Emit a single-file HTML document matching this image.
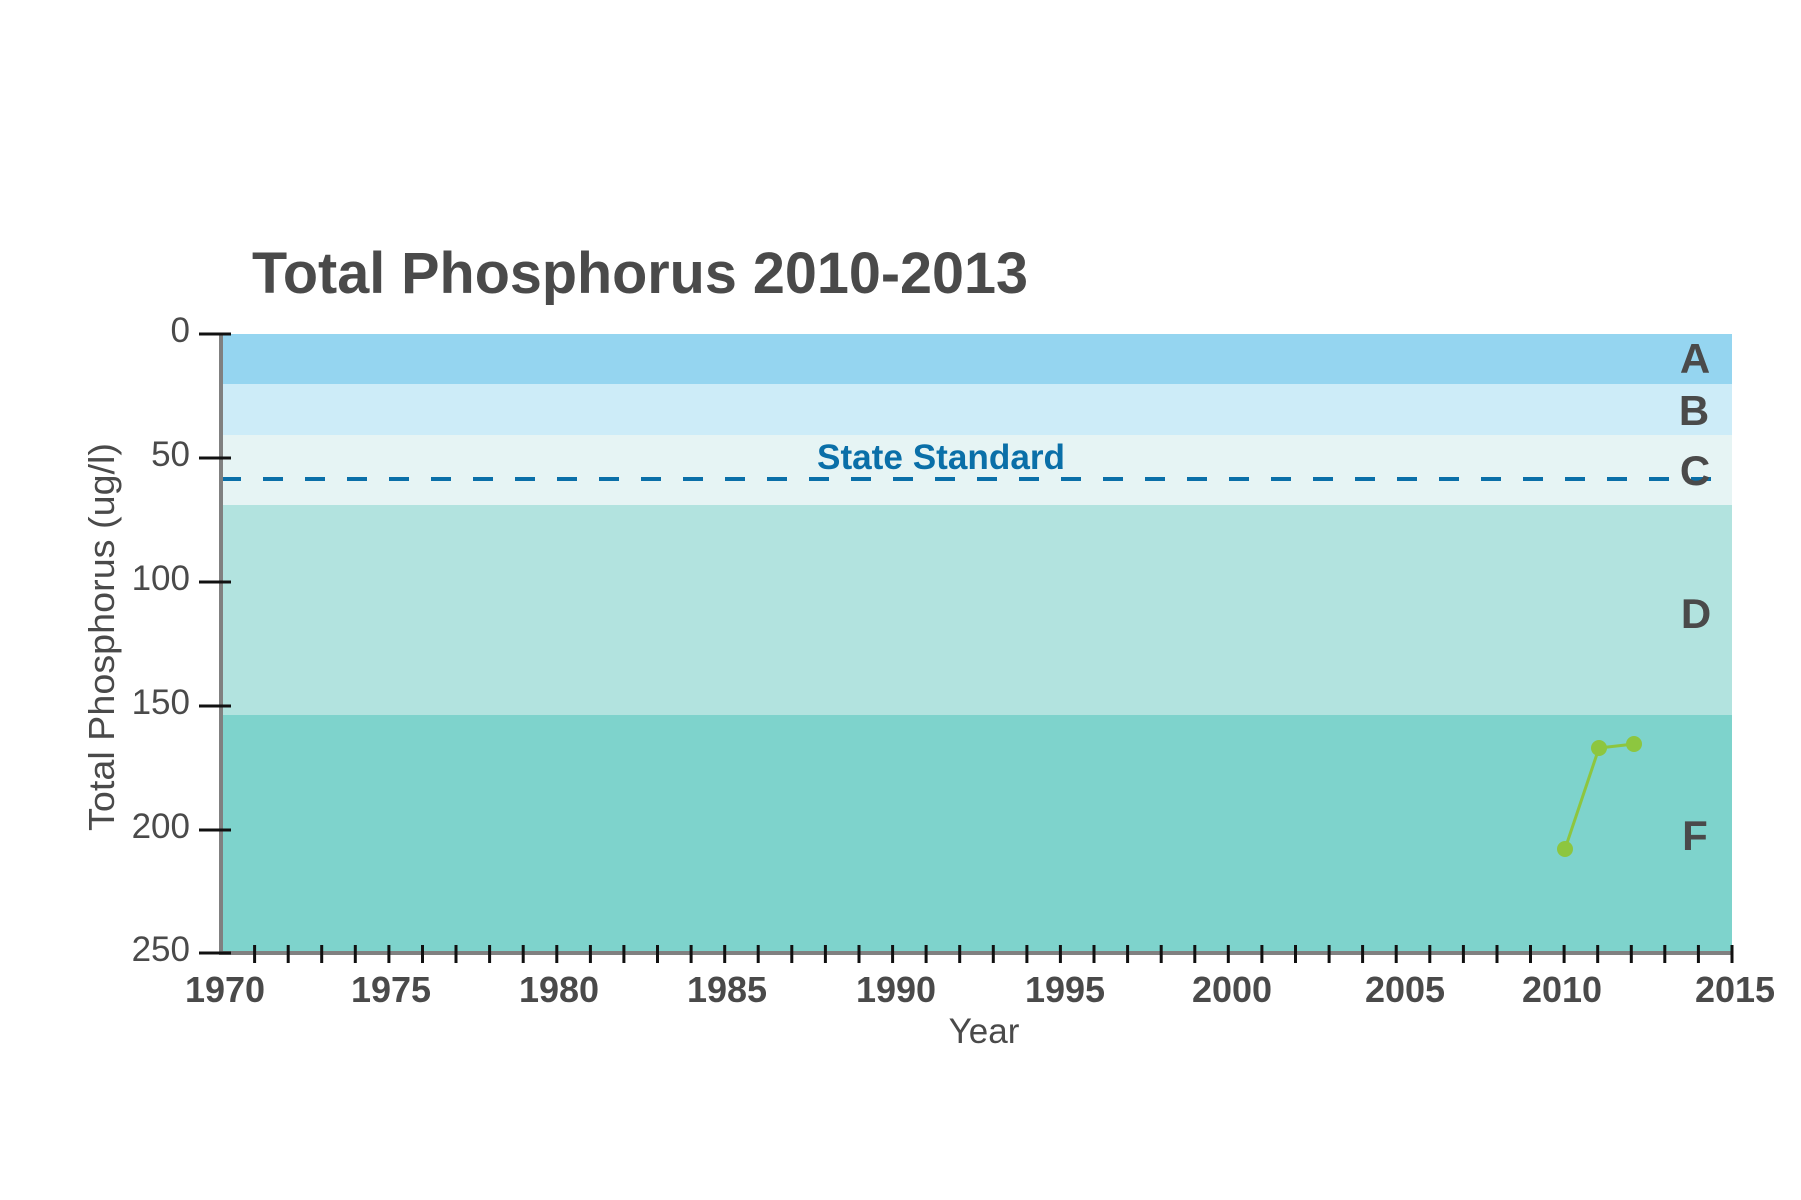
<!DOCTYPE html>
<html><head><meta charset="utf-8"><style>html,body{margin:0;padding:0;background:#fff}svg{display:block}</style></head>
<body>
<svg width="1801" height="1200" xmlns="http://www.w3.org/2000/svg" font-family="Liberation Sans, sans-serif">
<text x="252" y="293" font-size="58" font-weight="bold" fill="#4a4a4a" textLength="776" lengthAdjust="spacingAndGlyphs">Total Phosphorus 2010-2013</text>
<rect x="221" y="334" width="1511" height="50" fill="#95d5f0"/>
<rect x="221" y="384" width="1511" height="51" fill="#cdecf8"/>
<rect x="221" y="435" width="1511" height="70" fill="#e6f4f4"/>
<rect x="221" y="505" width="1511" height="210" fill="#b2e3df"/>
<rect x="221" y="715" width="1511" height="238" fill="#7ed3cc"/>
<line x1="221" y1="479" x2="1732" y2="479" stroke="#0a6fa8" stroke-width="4" stroke-dasharray="20 22"/>
<text x="817" y="469" font-size="35" font-weight="bold" fill="#0a6fa8" textLength="248" lengthAdjust="spacingAndGlyphs">State Standard</text>
<g font-size="42" font-weight="bold" fill="#4a4a4a" text-anchor="middle">
<text x="1695" y="373">A</text><text x="1694" y="425">B</text><text x="1695" y="485">C</text><text x="1696" y="628">D</text><text x="1695" y="850">F</text>
</g>
<polyline points="1565,849 1599,748 1634,744" fill="none" stroke="#8dc63f" stroke-width="3"/>
<g fill="#8dc63f"><circle cx="1565" cy="849" r="8"/><circle cx="1599" cy="748" r="8"/><circle cx="1634" cy="744" r="8"/></g>
<line x1="221" y1="334" x2="221" y2="955" stroke="#808080" stroke-width="4"/>
<line x1="219" y1="953" x2="1732" y2="953" stroke="#808080" stroke-width="4"/>
<g stroke="#111" stroke-width="3">
<line x1="199" y1="334" x2="231" y2="334"/><line x1="199" y1="458" x2="231" y2="458"/><line x1="199" y1="582" x2="231" y2="582"/><line x1="199" y1="706" x2="231" y2="706"/><line x1="199" y1="830" x2="231" y2="830"/><line x1="199" y1="953" x2="231" y2="953"/>
</g>
<g stroke="#111" stroke-width="3">
<line x1="254.6" y1="945" x2="254.6" y2="963"/><line x1="288.2" y1="945" x2="288.2" y2="963"/><line x1="321.7" y1="945" x2="321.7" y2="963"/><line x1="355.3" y1="945" x2="355.3" y2="963"/><line x1="388.9" y1="945" x2="388.9" y2="963"/><line x1="422.5" y1="945" x2="422.5" y2="963"/><line x1="456.0" y1="945" x2="456.0" y2="963"/><line x1="489.6" y1="945" x2="489.6" y2="963"/><line x1="523.2" y1="945" x2="523.2" y2="963"/><line x1="556.8" y1="945" x2="556.8" y2="963"/><line x1="590.4" y1="945" x2="590.4" y2="963"/><line x1="623.9" y1="945" x2="623.9" y2="963"/><line x1="657.5" y1="945" x2="657.5" y2="963"/><line x1="691.1" y1="945" x2="691.1" y2="963"/><line x1="724.7" y1="945" x2="724.7" y2="963"/><line x1="758.2" y1="945" x2="758.2" y2="963"/><line x1="791.8" y1="945" x2="791.8" y2="963"/><line x1="825.4" y1="945" x2="825.4" y2="963"/><line x1="859.0" y1="945" x2="859.0" y2="963"/><line x1="892.6" y1="945" x2="892.6" y2="963"/><line x1="926.1" y1="945" x2="926.1" y2="963"/><line x1="959.7" y1="945" x2="959.7" y2="963"/><line x1="993.3" y1="945" x2="993.3" y2="963"/><line x1="1026.9" y1="945" x2="1026.9" y2="963"/><line x1="1060.4" y1="945" x2="1060.4" y2="963"/><line x1="1094.0" y1="945" x2="1094.0" y2="963"/><line x1="1127.6" y1="945" x2="1127.6" y2="963"/><line x1="1161.2" y1="945" x2="1161.2" y2="963"/><line x1="1194.8" y1="945" x2="1194.8" y2="963"/><line x1="1228.3" y1="945" x2="1228.3" y2="963"/><line x1="1261.9" y1="945" x2="1261.9" y2="963"/><line x1="1295.5" y1="945" x2="1295.5" y2="963"/><line x1="1329.1" y1="945" x2="1329.1" y2="963"/><line x1="1362.6" y1="945" x2="1362.6" y2="963"/><line x1="1396.2" y1="945" x2="1396.2" y2="963"/><line x1="1429.8" y1="945" x2="1429.8" y2="963"/><line x1="1463.4" y1="945" x2="1463.4" y2="963"/><line x1="1497.0" y1="945" x2="1497.0" y2="963"/><line x1="1530.5" y1="945" x2="1530.5" y2="963"/><line x1="1564.1" y1="945" x2="1564.1" y2="963"/><line x1="1597.7" y1="945" x2="1597.7" y2="963"/><line x1="1631.3" y1="945" x2="1631.3" y2="963"/><line x1="1664.8" y1="945" x2="1664.8" y2="963"/><line x1="1698.4" y1="945" x2="1698.4" y2="963"/><line x1="1732.0" y1="945" x2="1732.0" y2="963"/>
</g>
<g font-size="35" fill="#4a4a4a" text-anchor="end">
<text x="190" y="342">0</text><text x="190" y="466">50</text><text x="190" y="590">100</text><text x="190" y="714">150</text><text x="190" y="838">200</text><text x="190" y="961">250</text>
</g>
<g font-size="36" font-weight="bold" fill="#4a4a4a" text-anchor="middle">
<text x="225" y="1002">1970</text><text x="391" y="1002">1975</text><text x="559" y="1002">1980</text><text x="727" y="1002">1985</text><text x="896" y="1002">1990</text><text x="1065" y="1002">1995</text><text x="1232" y="1002">2000</text><text x="1405" y="1002">2005</text><text x="1562" y="1002">2010</text><text x="1735" y="1002">2015</text>
</g>
<text x="984" y="1043" font-size="35" fill="#4a4a4a" text-anchor="middle">Year</text>
<text transform="translate(114,637) rotate(-90)" font-size="36" fill="#4a4a4a" text-anchor="middle" textLength="388" lengthAdjust="spacingAndGlyphs">Total Phosphorus (ug/l)</text>
</svg>
</body></html>
